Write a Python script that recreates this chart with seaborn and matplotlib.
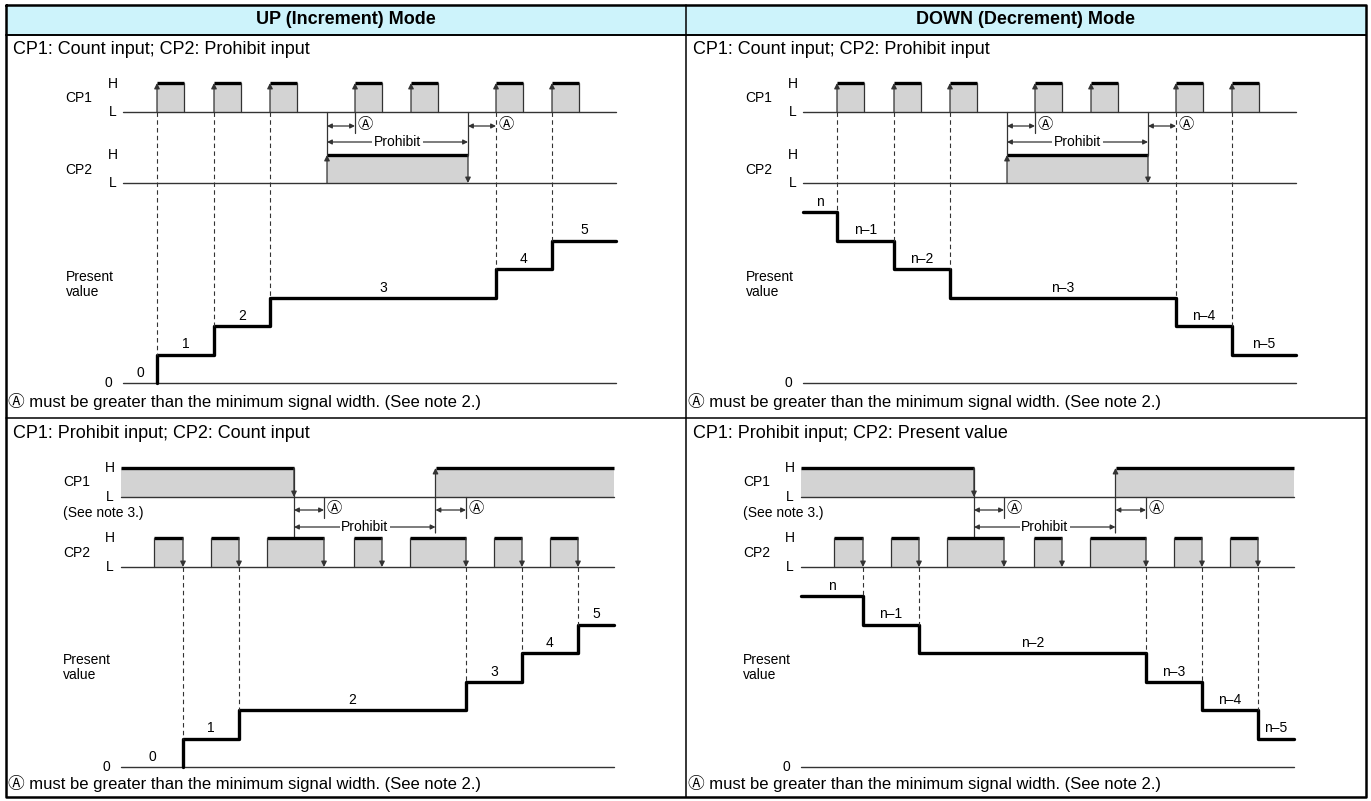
import matplotlib
matplotlib.use("Agg")
import matplotlib.pyplot as plt
import seaborn as sns
import pandas as pd

# texts
modes = ["UP (Increment) Mode", "DOWN (Decrement) Mode"]
captions = [["CP1: Count input; CP2: Prohibit input", "CP1: Count input; CP2: Prohibit input"],
            ["CP1: Prohibit input; CP2: Count input", "CP1: Prohibit input; CP2: Present value"]]
note_text = "Ⓐ must be greater than the minimum signal width. (See note 2.)"

# row 1 timing (x from the left of each column)
r1_cp1_rise = [157, 214, 270, 355, 411, 496, 552]
r1_cp1_fall = [184, 241, 297, 382, 438, 523, 579]
r1_cp2_on = 327
r1_cp2_off = 468
r1_count_edges = [157, 214, 270, 496, 552]

# row 2 timing
r2_cp1_low = 294
r2_cp1_high = 435.5
r2_cp2_rise = [154, 211, 267, 354, 410, 494, 550]
r2_cp2_fall = [183, 239, 324, 382, 466, 522, 578]
r2_count_edges = [183, 239, 466, 522, 578]

# present values
up_values = [0, 1, 2, 3, 4, 5]
up_labels = ["0", "1", "2", "3", "4", "5"]
down_values = [6, 5, 4, 3, 2, 1]
down_labels = ["n", "n–1", "n–2", "n–3", "n–4", "n–5"]

sns.set_theme(style="white")
plt.rcParams["font.family"] = ["Liberation Sans", "DejaVu Sans", "Noto Sans CJK SC"]

LINE = "#333333"
GRAY = "#d3d3d3"
STEP = 28.5
OFFS = [0, 680]

fig = plt.figure(figsize=(13.71, 8.01), dpi=100)
ax = fig.add_axes([0, 0, 1, 1])


def arrow(x1, y1, x2, y2, style="-|>", ms=8):
    ax.annotate("", xy=(x2, y2), xytext=(x1, y1),
                arrowprops=dict(arrowstyle=style, color=LINE, lw=0.9,
                                mutation_scale=ms, shrinkA=0, shrinkB=0))


def txt(x, y, s, size=10, **kw):
    kw.setdefault("ha", "center")
    kw.setdefault("va", "center")
    ax.text(x, y, s, fontsize=size, color="black", **kw)


def pulse(x0, r, f, hi, lo, rise_arrow=False, fall_arrow=False):
    ax.fill_between([x0 + r, x0 + f], hi, lo, color=GRAY, lw=0)
    ax.plot([x0 + r, x0 + f], [hi, hi], color="black", lw=2.4, solid_capstyle="butt")
    if rise_arrow:
        arrow(x0 + r, lo, x0 + r, hi)
    else:
        ax.plot([x0 + r, x0 + r], [hi, lo], color=LINE, lw=0.9)
    if fall_arrow:
        arrow(x0 + f, hi, x0 + f, lo)
    else:
        ax.plot([x0 + f, x0 + f], [hi, lo], color=LINE, lw=0.9)


def a_mark(x1, x2, y, ytop, ybot):
    arrow(x1, y, x2, y, style="<|-|>", ms=7)
    ax.plot([x2, x2], [ytop, ybot], color=LINE, lw=0.9)
    txt(x2 + 2, y - 1, "Ⓐ", size=11, ha="left")


def prohibit(x1, x2, y):
    arrow(x1, y, x2, y, style="<|-|>", ms=7)
    txt((x1 + x2) / 2, y, "Prohibit", size=10,
        bbox=dict(fc="white", ec="none", pad=1))


def present(x0, xs, x_end, edges, values, labels, lvl0, sig_lo, up):
    # axis line at 0
    ax.plot([x0 + xs, x0 + x_end], [lvl0, lvl0], color=LINE, lw=1.0)
    txt(x0 + xs - 11, lvl0, "0", ha="right")
    ys = [lvl0 - v * STEP for v in values]
    start = edges[0] if up else xs
    px = [x0 + start] + [x0 + e for e in edges] + [x0 + x_end]
    py = ys + [ys[-1]]
    df = pd.DataFrame({"x": px, "y": py})
    sns.lineplot(data=df, x="x", y="y", drawstyle="steps-post", estimator=None,
                 sort=False, color="black", lw=2.4, ax=ax)
    bounds = [xs] + edges + [x_end]
    for i, lab in enumerate(labels):
        txt(x0 + (bounds[i] + bounds[i + 1]) / 2, ys[i] - 3, lab, va="bottom")
    for i, e in enumerate(edges):
        top = min(ys[i], ys[i + 1])
        ax.plot([x0 + e, x0 + e], [sig_lo, top], color=LINE, lw=0.8,
                linestyle=(0, (4, 3)))


for c, x0 in enumerate(OFFS):
    # ---- row 1 ----
    xs, xe = 123, 616
    txt(x0 + 13, 50, captions[0][c], size=13, ha="left")
    txt(x0 + 79, 98, "CP1")
    txt(x0 + 113, 84, "H")
    txt(x0 + 113, 112, "L")
    txt(x0 + 79, 170, "CP2")
    txt(x0 + 113, 155, "H")
    txt(x0 + 113, 183, "L")
    ax.plot([x0 + xs, x0 + xe], [112, 112], color=LINE, lw=1.0)
    ax.plot([x0 + xs, x0 + xe], [183, 183], color=LINE, lw=1.0)
    for r, f in zip(r1_cp1_rise, r1_cp1_fall):
        pulse(x0, r, f, 83, 112, rise_arrow=True)
    pulse(x0, r1_cp2_on, r1_cp2_off, 155, 183, rise_arrow=True, fall_arrow=True)
    ax.plot([x0 + r1_cp2_on] * 2, [112, 155], color=LINE, lw=0.9)
    ax.plot([x0 + r1_cp2_off] * 2, [112, 155], color=LINE, lw=0.9)
    a_mark(x0 + r1_cp2_on, x0 + r1_cp1_rise[3], 126, 112, 133)
    a_mark(x0 + r1_cp2_off, x0 + r1_cp1_rise[5], 126, 112, 112)
    prohibit(x0 + r1_cp2_on, x0 + r1_cp2_off, 142)
    txt(x0 + 66, 277, "Present", ha="left")
    txt(x0 + 66, 292, "value", ha="left")
    if c == 0:
        present(x0, xs, xe, r1_count_edges, up_values, up_labels, 383, 112, True)
    else:
        present(x0, xs, xe, r1_count_edges, down_values, down_labels, 383, 112, False)
    txt(x0 + 8, 401, note_text, size=12, ha="left")

    # ---- row 2 ----
    xs, xe = 121, 614
    txt(x0 + 13, 433, captions[1][c], size=13, ha="left")
    txt(x0 + 77, 482, "CP1")
    txt(x0 + 110, 468, "H")
    txt(x0 + 110, 497, "L")
    txt(x0 + 63, 513, "(See note 3.)", ha="left")
    txt(x0 + 77, 553, "CP2")
    txt(x0 + 110, 538, "H")
    txt(x0 + 110, 567, "L")
    ax.plot([x0 + xs, x0 + xe], [497, 497], color=LINE, lw=1.0)
    ax.plot([x0 + xs, x0 + xe], [567, 567], color=LINE, lw=1.0)
    ax.fill_between([x0 + xs, x0 + r2_cp1_low], 468, 497, color=GRAY, lw=0)
    ax.plot([x0 + xs, x0 + r2_cp1_low], [468, 468], color="black", lw=2.4, solid_capstyle="butt")
    ax.fill_between([x0 + r2_cp1_high, x0 + xe], 468, 497, color=GRAY, lw=0)
    ax.plot([x0 + r2_cp1_high, x0 + xe], [468, 468], color="black", lw=2.4, solid_capstyle="butt")
    ax.plot([x0 + r2_cp1_low] * 2, [468, 538], color=LINE, lw=0.9)
    arrow(x0 + r2_cp1_low, 468, x0 + r2_cp1_low, 497)
    arrow(x0 + r2_cp1_high, 533, x0 + r2_cp1_high, 468)
    for r, f in zip(r2_cp2_rise, r2_cp2_fall):
        pulse(x0, r, f, 538, 567, fall_arrow=True)
    a_mark(x0 + r2_cp1_low, x0 + r2_cp2_fall[2], 510, 497, 518)
    a_mark(x0 + r2_cp1_high, x0 + r2_cp2_fall[4], 510, 497, 518)
    prohibit(x0 + r2_cp1_low, x0 + r2_cp1_high, 527)
    txt(x0 + 63, 660, "Present", ha="left")
    txt(x0 + 63, 675, "value", ha="left")
    if c == 0:
        present(x0, xs, xe, r2_count_edges, up_values, up_labels, 767, 567, True)
    else:
        present(x0, xs, xe, r2_count_edges, down_values, down_labels, 767, 567, False)
    txt(x0 + 8, 783, note_text, size=12, ha="left")

# table frame and header
ax.fill_between([6, 1366], 5, 35, color="#cdf3fb", lw=0, zorder=0)
txt(346, 20, modes[0], size=13, fontweight="bold")
txt(1026, 20, modes[1], size=13, fontweight="bold")
ax.plot([6, 1366, 1366, 6, 6], [5, 5, 797, 797, 5], color="black", lw=1.8)
ax.plot([6, 1366], [35, 35], color="black", lw=1.4)
ax.plot([6, 1366], [418, 418], color="black", lw=1.1)
ax.plot([686, 686], [5, 797], color="black", lw=1.1)

ax.set_xlim(0, 1371)
ax.set_ylim(801, 0)
ax.axis("off")
fig.savefig("out.png", dpi=100)
